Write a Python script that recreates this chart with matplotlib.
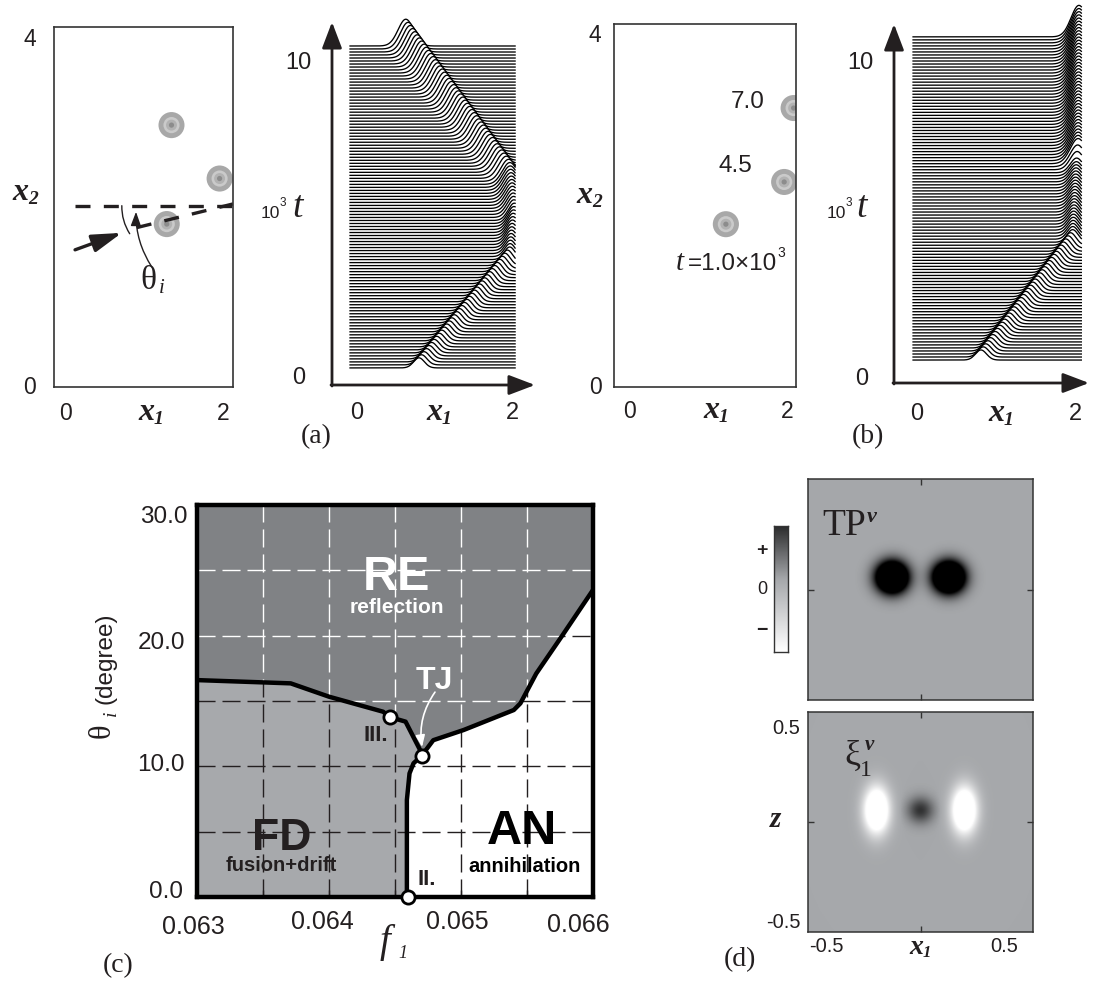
import numpy as np
import matplotlib
matplotlib.use("Agg")
import matplotlib.pyplot as plt
from matplotlib.patches import Ellipse, Polygon
from matplotlib.colors import LinearSegmentedColormap

W, H = 1094, 989
SANS = "Liberation Sans"
SERIF = "Liberation Serif"
INK = "#231F20"
RE_C = "#808285"
FD_C = "#A7A9AC"
BG_C = "#A6A8AB"

# ---------------------------------------------------------------- data
# (a)/(b) left: spot snapshots in the (x1, x2) box
spot_a_x1 = [1.35, 1.96, 1.29]
spot_a_x2 = [2.99, 2.38, 1.86]
spot_b_x1 = [1.22, 1.96, 2.08]
spot_b_x2 = [1.85, 2.33, 3.17]

# (a)/(b) right: pulse centre, height and width against 10^3 t
wf_a_t = [0.32, 3.75, 5.0, 6.2, 10.54]
wf_a_c = [0.80, 1.97, 2.03, 1.97, 0.63]
wf_a_h = [0.32, 0.40, 0.55, 0.70, 0.85]
wf_a_w = [0.07, 0.07, 0.08, 0.10, 0.10]
wf_b_t = [0.57, 4.30, 6.50, 6.80, 10.83]
wf_b_c = [0.81, 1.97, 2.02, 2.04, 2.05]
wf_b_h = [0.32, 0.40, 0.45, 0.80, 1.00]
wf_b_w = [0.07, 0.07, 0.08, 0.10, 0.10]

# (c) phase boundaries (f1, theta_i)
fd_re_f = [0.06300, 0.06371, 0.06400, 0.06441, 0.06446, 0.06458, 0.06469, 0.06470]
fd_re_th = [16.6, 16.35, 15.33, 14.18, 13.77, 13.42, 11.25, 10.79]
fd_an_f = [0.06470, 0.06464, 0.06461, 0.06459, 0.06459]
fd_an_th = [10.79, 10.23, 9.46, 7.42, 0.0]
re_an_f = [0.06470, 0.06479, 0.06502, 0.06540, 0.06545, 0.06557, 0.06577, 0.06600]
re_an_th = [10.79, 12.0, 12.78, 14.31, 14.82, 17.1, 20.05, 23.5]
pts_f = [0.064462, 0.064702, 0.064598]
pts_th = [13.77, 10.79, 0.0]
grid_f = [0.0635, 0.0640, 0.0645, 0.0650, 0.0655]
grid_th = [5, 10, 15, 20, 25]

# (d) field blobs (x1, z, amplitude, sx, sz)
tp_x = [-0.152, 0.152]
tp_z = [0.067, 0.067]
tp_amp = [3.0, 3.0]
tp_s = [0.058, 0.058]
xi_x = [-0.235, 0.0, 0.235]
xi_z = [0.065, 0.065, 0.065]
xi_amp = [-2.0, 0.7, -2.0]
xi_sx = [0.048, 0.05, 0.048]
xi_sz = [0.09, 0.05, 0.09]

# ---------------------------------------------------------------- helpers
fig = plt.figure(figsize=(W / 100, H / 100), dpi=100)


def px_axes(x0, y0, x1, y1):
    return fig.add_axes([x0 / W, 1 - y1 / H, (x1 - x0) / W, (y1 - y0) / H])


def box_frame(ax, lw=1.2, col="#333333"):
    ax.set_xticks([])
    ax.set_yticks([])
    for s in ax.spines.values():
        s.set_linewidth(lw)
        s.set_color(col)


def spot(ax, x, y, rx, ry):
    for f, col in zip([1.0, 0.62, 0.42, 0.2], ["#A8A8A8", "#CACACA", "#B2B2B2", "#8C8C8C"]):
        ax.add_patch(Ellipse((x, y), 2 * rx * f, 2 * ry * f, color=col, lw=0))


def waterfall(ax, t0, t1, n, xl, xr, kt, kc, kh, kw):
    x = np.linspace(xl, xr, 400)
    ts = np.linspace(t0, t1, n)[::-1]          # back to front
    for i, t in enumerate(ts):
        c = np.interp(t, kt, kc)
        h = np.interp(t, kt, kh)
        w = np.interp(t, kt, kw)
        y = t + h * np.exp(-0.5 * ((x - c) / w) ** 2)
        z = 2 + i * 0.01
        ax.fill_between(x, t, y, color="white", lw=0, zorder=z)
        ax.plot(x, y, color="black", lw=0.95, zorder=z + 0.005)


def blobs(xs, zs, amps, sxs, szs, n=220, lim=0.6):
    g = np.linspace(-lim, lim, n)
    X, Z = np.meshgrid(g, g)
    F = np.zeros_like(X)
    for x0, z0, a, sx, sz in zip(xs, zs, amps, sxs, szs):
        F += a * np.exp(-0.5 * (((X - x0) / sx) ** 2 + ((Z - z0) / sz) ** 2))
    return F


# ---------------------------------------------------------------- (a) left
axA = px_axes(54, 27, 233, 387)
axA.set_xlim(-0.14, 2.13)
axA.set_ylim(0, 4.11)
box_frame(axA)
for x, y in zip(spot_a_x1, spot_a_x2):
    spot(axA, x, y, 0.165, 0.149)
axA.plot([0.127, 2.13], [2.07, 2.07], color=INK, lw=2.4, dashes=(4.5, 4))
axA.annotate("", xy=(0.72, 1.76), xytext=(0.127, 1.566),
             arrowprops=dict(arrowstyle="-|>,head_length=1.0,head_width=0.3", lw=2.4,
                             color=INK, mutation_scale=18, shrinkA=0, shrinkB=0))
axA.plot([0.91, 2.13], [1.82, 2.09], color=INK, lw=2.4, dashes=(4.5, 4))
axA.annotate("", xy=(0.82, 1.75), xytext=(0.72, 2.07),
             arrowprops=dict(arrowstyle="-", lw=1.0, color=INK,
                             connectionstyle="arc3,rad=0.15", shrinkA=0, shrinkB=0))
axA.annotate("", xy=(0.90, 2.0), xytext=(1.10, 1.37),
             arrowprops=dict(arrowstyle="-|>,head_length=0.6,head_width=0.22", lw=1.0,
                             color=INK, mutation_scale=14,
                             connectionstyle="arc3,rad=-0.15", shrinkA=0, shrinkB=0))

# ---------------------------------------------------------------- (a) right
axAW = px_axes(335, 0, 540, 392)
axAW.set_xlim((335 - 357) / 77.5, (540 - 357) / 77.5)
axAW.set_ylim((378 - 392) / 31.5, 378 / 31.5)
axAW.axis("off")
waterfall(axAW, 0.32, 10.54, 108, -0.09, 2.04, wf_a_t, wf_a_c, wf_a_h, wf_a_w)

# ---------------------------------------------------------------- (b) left
axB = px_axes(614, 24, 796, 387)
axB.set_xlim(-0.20, 2.11)
axB.set_ylim(0, 4.125)
box_frame(axB)
for x, y in zip(spot_b_x1, spot_b_x2):
    spot(axB, x, y, 0.166, 0.148)

# ---------------------------------------------------------------- (b) right
axBW = px_axes(897, 0, 1094, 392)
axBW.set_xlim((897 - 917) / 79, (1094 - 917) / 79)
axBW.set_ylim((378 - 392) / 31.5, 378 / 31.5)
axBW.axis("off")
waterfall(axBW, 0.57, 10.83, 108, -0.05, 2.08, wf_b_t, wf_b_c, wf_b_h, wf_b_w)

# ---------------------------------------------------------------- (c)
axC = px_axes(197, 505, 593, 897)
axC.set_xlim(0.063, 0.066)
axC.set_ylim(0, 30)
fd_poly = list(zip(fd_re_f, fd_re_th)) + list(zip(fd_an_f, fd_an_th))[1:] + [(0.063, 0.0)]
re_poly = ([(0.063, 30.0), (0.066, 30.0)] + list(zip(re_an_f, re_an_th))[::-1][:-1]
           + list(zip(fd_re_f, fd_re_th))[::-1])
axC.add_patch(Polygon(fd_poly, closed=True, fc=FD_C, ec="none", zorder=1))
for gx in grid_f:
    axC.plot([gx, gx], [0, 30], color=INK, lw=1, dashes=(13, 5), zorder=2)
for gy in grid_th:
    axC.plot([0.063, 0.066], [gy, gy], color=INK, lw=1, dashes=(13, 5), zorder=2)
re_patch = Polygon(re_poly, closed=True, fc=RE_C, ec="none", zorder=2.5)
axC.add_patch(re_patch)
for gx in grid_f:
    ln, = axC.plot([gx, gx], [0, 30], color="white", lw=1, dashes=(13, 5), zorder=2.6)
    ln.set_clip_path(re_patch)
for gy in grid_th:
    ln, = axC.plot([0.063, 0.066], [gy, gy], color="white", lw=1, dashes=(13, 5), zorder=2.6)
    ln.set_clip_path(re_patch)
for fx, fy in [(fd_re_f, fd_re_th), (fd_an_f, fd_an_th), (re_an_f, re_an_th)]:
    axC.plot(fx, fy, color="black", lw=3.2, solid_joinstyle="round", zorder=3)
axC.plot(pts_f, pts_th, "o", ms=9.5, mfc="white", mec="black", mew=2, zorder=4, clip_on=False)
axC.set_xticks(grid_f)
axC.set_yticks([])
axC.tick_params(axis="x", direction="in", length=5, width=1, labelbottom=False, color=INK)
for s in axC.spines.values():
    s.set_linewidth(3.2)
    s.set_color("black")
    s.set_zorder(3.5)

kw_b = dict(family=SANS, weight="bold", ha="center", va="baseline", zorder=5)
axC.text(0.064515, 23.49, "RE", color="white", fontsize=35, **kw_b)
axC.text(0.064515, 21.73, "reflection", color="white", fontsize=15, **kw_b)
axC.text(0.064795, 15.91, "TJ", color="white", fontsize=23, **kw_b)
axC.text(0.064354, 11.94, "III.", color=INK, fontsize=16, **kw_b)
axC.text(0.064739, 0.92, "II.", color=INK, fontsize=16, **kw_b)
axC.text(0.063643, 3.62, "FD", color=INK, fontsize=32, **kw_b)
axC.text(0.063635, 2.0, "fusion+drift", color=INK, fontsize=14.5, **kw_b)
axC.text(0.065458, 4.05, "AN", color="black", fontsize=35, **kw_b)
axC.text(0.065483, 1.91, "annihilation", color="black", fontsize=14.5, **kw_b)
axC.annotate("", xy=(0.064705, 11.48), xytext=(0.064803, 15.68),
             arrowprops=dict(arrowstyle="-|>,head_length=0.5,head_width=0.2", lw=1.2,
                             color="white", mutation_scale=14,
                             connectionstyle="arc3,rad=0.2", shrinkA=0, shrinkB=0), zorder=5)

# ---------------------------------------------------------------- (d)
cmap = LinearSegmentedColormap.from_list("tp", [(0, "#FFFFFF"), (0.5, BG_C), (1, "#000000")])


def field_axes(rect, F):
    ax = px_axes(*rect)
    ax.imshow(F, extent=[-0.6, 0.6, -0.6, 0.6], origin="lower", cmap=cmap,
              vmin=-1, vmax=1, aspect="auto", interpolation="bilinear")
    ax.set_xticks([0])
    ax.set_yticks([0])
    ax.tick_params(direction="in", length=4, width=1, top=True, right=True,
                   labelbottom=False, labelleft=False, color="#333333")
    for s in ax.spines.values():
        s.set_linewidth(1.1)
        s.set_color("#333333")
    return ax


field_axes((808, 479, 1033, 700), blobs(tp_x, tp_z, tp_amp, tp_s, tp_s))
field_axes((808, 712, 1033, 932), blobs(xi_x, xi_z, xi_amp, xi_sx, xi_sz))
axCB = px_axes(774, 526, 788, 652)
axCB.imshow(np.linspace(-1, 0.75, 256)[:, None], origin="lower", aspect="auto",
            cmap=cmap, vmin=-1, vmax=1, extent=[0, 1, 0, 1])
box_frame(axCB, lw=1.0)

# ---------------------------------------------------------------- overlay text & arrows (pixel coords)
ov = fig.add_axes([0, 0, 1, 1])
ov.set_xlim(0, W)
ov.set_ylim(H, 0)
ov.axis("off")


def t(x, y, s, size, ha="center", va="center", fam=SANS, **kw):
    return ov.text(x, y, s, fontsize=size, ha=ha, va=va, family=fam, color=INK, **kw)


def xlab(x, base_y, sub, size=23, subsize=14, letter="x"):
    b = ov.text(x, base_y, letter, family=SERIF, weight="bold", style="italic",
                fontsize=size, ha="center", va="baseline", color=INK)
    if sub:
        ov.annotate(sub, xy=(1, 0), xycoords=b, xytext=(0.0, 2.5), textcoords="offset points",
                    family=SERIF, weight="bold", style="italic", fontsize=subsize,
                    ha="left", va="baseline", color=INK)


def axis_arrow(x0, y0, x1, y1):
    ov.annotate("", xy=(x1, y1), xytext=(x0, y0),
                arrowprops=dict(arrowstyle="-|>,head_length=1.0,head_width=0.38", lw=2,
                                color=INK, mutation_scale=16, shrinkA=0, shrinkB=0))


# (a) left labels
t(30, 39, "4", 16.5)
t(30, 388, "0", 16.5)
t(65, 413, "0", 16.5)
t(223, 413, "2", 16.5)
xlab(146, 420, "1")
xlab(20, 200, "2")
t(148, 289, "θ", 24, va="baseline", fam=SERIF)
t(162, 293, "i", 15, va="baseline", fam=SERIF, style="italic")

# (a) right labels
axis_arrow(332, 386, 332, 22)
axis_arrow(331, 385, 535, 385)
t(298, 63, "10", 17)
t(299, 378, "0", 17)
t(357, 413, "0", 17)
t(512, 413, "2", 17)
xlab(434, 420, "1")
t(270, 213, "10", 12.5)
t(283, 203, "3", 8.5)
t(298, 217, "t", 27, va="baseline", fam=SERIF, style="italic")
t(316, 437, "(a)", 20, fam=SERIF)

# (b) left labels
t(595, 36, "4", 16.5)
t(595, 387, "0", 16.5)
t(630, 412, "0", 16.5)
t(787, 412, "2", 16.5)
xlab(711, 418, "1")
xlab(584, 203, "2")
t(748, 102, "7.0", 17.5)
t(735, 166, "4.5", 17.5)
t(680, 270, "t", 21, va="baseline", fam=SERIF, style="italic")
t(688, 270, "=1.0×10", 17.5, ha="left", va="baseline")
t(777, 257, "3", 10, ha="left", va="baseline")

# (b) right labels
axis_arrow(894, 384, 894, 24)
axis_arrow(893, 383, 1089, 383)
t(860, 63, "10", 17)
t(862, 379, "0", 17)
t(917, 414, "0", 17)
t(1075, 414, "2", 17)
xlab(996, 421, "1")
t(836, 213, "10", 12.5)
t(849, 203, "3", 8.5)
t(862, 217, "t", 27, va="baseline", fam=SERIF, style="italic")
t(868, 437, "(b)", 20, fam=SERIF)

# (c) labels
for s, x, y in [("30.0", 188, 517), ("20.0", 185, 643), ("10.0", 185, 765), ("0.0", 183, 892)]:
    t(x, y, s, 17.5, ha="right")
for s, x, y in [("0.063", 193, 927), ("0.064", 322, 922), ("0.065", 457, 922), ("0.066", 578, 925)]:
    t(x, y, s, 18)
t(105, 658, "(degree)", 17.5, rotation=90)
t(102, 731, "θ", 22, fam=SERIF, rotation=90)
t(111, 713, "i", 14, fam=SERIF, style="italic", rotation=90)
t(385, 952, "f", 28, va="baseline", fam=SERIF, style="italic")
t(403, 958, "1", 13, va="baseline", fam=SERIF, style="italic")
t(118, 966, "(c)", 20, fam=SERIF)

# (d) labels
t(762, 550, "+", 14, weight="bold")
t(762, 590, "0", 13)
t(762, 630, "−", 14, weight="bold")
t(822, 535, "TP", 27, ha="left", va="baseline", fam=SERIF)
ov.text(867, 522, "v", family=SERIF, weight="bold", style="italic", fontsize=16,
        ha="left", va="baseline", color=INK)
t(852, 765, "ξ", 26, va="baseline", fam=SERIF)
t(866, 776, "1", 17, va="baseline", fam=SERIF)
ov.text(869, 750, "v", family=SERIF, weight="bold", style="italic", fontsize=15,
        ha="center", va="baseline", color=INK)
t(800, 729, "0.5", 14.5, ha="right")
t(801, 922, "-0.5", 14.5, ha="right")
t(826, 947, "-0.5", 14.5)
t(1004, 947, "0.5", 14.5)
xlab(916, 954, "1", size=20, subsize=12)
xlab(776, 827, "", size=21, letter="z")
t(740, 960, "(d)", 20, fam=SERIF)

fig.savefig("out.png", dpi=100)
